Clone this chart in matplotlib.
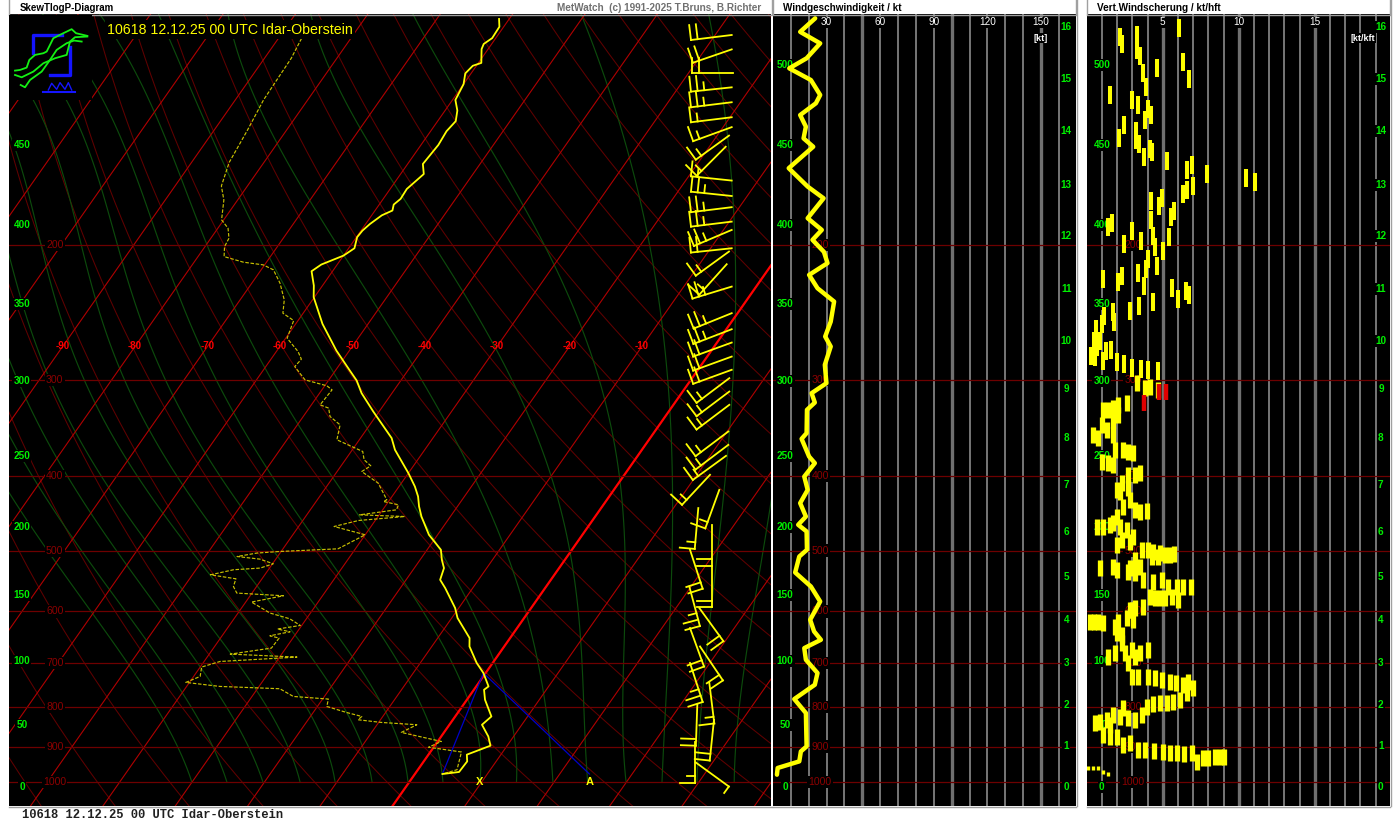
import numpy as np
import matplotlib
matplotlib.use('Agg')
import matplotlib.pyplot as plt
from matplotlib.lines import Line2D
from matplotlib.patches import Rectangle
from matplotlib.transforms import IdentityTransform

# Sounding, pressure in hPa and temperature in deg C
temp_p = [101.5, 103.9, 107.5, 109.4, 111.1, 115.8, 116.8, 119.5, 123.4, 129.4, 133.6, 137.9, 142.1, 148.1,
          156.8, 161.6, 169.0, 174.1, 177.1, 180.3, 182.9, 187.7, 191.5, 195.3, 201.9, 206.4, 212.0, 216.3,
          225.8, 233.8, 253.3, 274.4, 291.4, 300.2, 311.8, 329.5, 356.8, 369.6, 396.3, 412.6, 425.1, 438.0,
          451.4, 476.8, 498.7, 513.9, 526.9, 545.7, 559.4, 593.9, 612.0, 649.9, 666.5, 700.4, 721.8, 751.4,
          758.9, 782.0, 822.2, 842.9, 872.9, 897.5, 922.0, 940.8, 971.2, 977.1]
temp_t = [-61.4, -60.6, -60.5, -61.1, -60.9, -59.6, -60.5, -60.8, -60.0, -59.6, -58.3, -57.5, -57.8, -57.6,
          -57.9, -56.8, -57.7, -57.6, -58.0, -57.6, -58.6, -59.4, -59.8, -59.9, -59.2, -60.0, -62.2, -62.9,
          -61.2, -60.1, -56.3, -51.8, -48.0, -46.1, -44.2, -40.8, -35.7, -34.1, -30.0, -27.8, -26.4, -25.3,
          -24.0, -21.2, -18.1, -17.0, -15.9, -15.3, -13.8, -10.5, -9.2, -5.6, -4.8, -2.2, -0.3, 1.7,
          1.4, 2.5, 5.0, 4.5, 6.5, 7.7, 5.3, 6.0, 5.9, 3.8]
dew_p = [107.6, 114.2, 121.9, 129.4, 141.6, 156.1, 167.5, 174.7, 185.4, 190.1, 195.9, 200.9, 207.0, 210.5,
         212.2, 215.4, 224.2, 235.7, 245.3, 250.8, 264.4, 275.2, 281.6, 287.9, 299.6, 305.0, 308.7, 322.9,
         326.1, 334.4, 342.9, 358.6, 371.4, 380.8, 387.7, 394.4, 408.4, 429.3, 431.5, 435.8, 442.4, 449.1,
         451.4, 456.8, 465.1, 476.8, 497.3, 501.3, 503.7, 508.9, 512.9, 520.1, 526.9, 529.5, 537.6, 544.1,
         556.8, 567.9, 572.5, 583.4, 602.9, 613.4, 625.8, 632.6, 637.8, 645.5, 650.0, 669.8, 682.0, 688.1,
         697.2, 708.9, 729.2, 742.4, 751.4, 756.6, 774.3, 780.4, 797.9, 812.4, 822.2, 830.4, 837.1, 842.9,
         862.5, 886.2, 901.7, 914.7, 964.6, 977.1]
dew_t = [-86.8, -86.3, -86.2, -86.1, -85.4, -84.8, -83.6, -81.9, -80.3, -78.6, -77.5, -77.3, -76.4, -73.2,
         -70.2, -68.3, -66.1, -63.9, -62.8, -60.6, -59.8, -57.0, -55.8, -56.0, -53.3, -49.7, -48.6, -48.8,
         -47.3, -46.3, -44.1, -43.1, -38.4, -37.4, -35.9, -36.6, -33.2, -30.4, -30.7, -28.3, -28.1, -32.7,
         -26.3, -32.3, -35.1, -30.0, -32.4, -40.2, -43.2, -45.6, -42.2, -39.9, -41.3, -44.8, -47.5, -43.6,
         -43.2, -42.1, -35.4, -39.2, -35.6, -32.3, -30.2, -33.0, -31.0, -33.4, -31.9, -32.0, -37.1, -27.6,
         -37.8, -39.8, -39.1, -40.5, -35.4, -26.9, -24.3, -19.2, -18.7, -15.4, -12.9, -13.1, -9.6, -4.5,
         -5.9, 0.5, -0.7, 4.3, 5.4, 3.8]

# Lifted parcel, surface -> LCL -> moist point
lift_p = [977.1, 721.8, 977.1]
lift_t = [3.8, -0.3, 24.1]

# Wind speed profile
wind_p = [101.3, 105.5, 109.2, 114.2, 117.7, 121.9, 127.5, 130.7, 135.4, 140.2, 145.2, 148.9, 158.8, 167.8,
          173.8, 184.5, 191.1, 196.9, 204.1, 211.1, 218.7, 227.6, 236.9, 251.6, 263.1, 271.1, 286.4, 302.6,
          311.8, 320.7, 327.8, 351.5, 357.6, 377.1, 384.6, 400.4, 416.7, 433.6, 451.4, 462.7, 472.1, 498.7,
          508.9, 533.9, 556.8, 582.4, 615.2, 637.2, 653.3, 669.8, 693.6, 721.8, 747.6, 780.4, 813.8, 899.5,
          913.1, 940.8, 959.6, 979.1]
wind_kt = [23.6, 15.2, 26.4, 18.8, 9.1, 21.2, 26.4, 24.0, 15.2, 18.4, 17.1, 22.5, 8.8, 19.4,
           28.3, 19.4, 27.3, 22.1, 28.5, 30.5, 20.2, 24.9, 34.2, 32.3, 29.2, 32.3, 29.0, 29.9,
           21.6, 23.4, 19.0, 18.8, 16.0, 20.2, 23.4, 17.5, 19.4, 15.2, 18.4, 14.1, 18.8, 19.0,
           14.7, 12.4, 21.2, 26.4, 20.8, 23.0, 26.8, 17.5, 18.4, 24.9, 23.4, 11.9, 18.4, 18.8,
           15.6, 14.7, 2.6, 2.2]

# Wind barbs
barb_p = [106.5, 111.2, 119.2, 124.6, 130.3, 136.3, 140.4, 144.0, 148.9, 164.8, 172.6, 178.5, 186.4, 191.1,
          201.9, 203.9, 211.8, 226.5, 245.3, 257.4, 267.9, 279.4, 290.7, 298.1, 310.3, 322.9, 349.8, 364.1,
          376.3, 398.3, 416.7, 440.1, 462.7, 524.3, 498.7, 556.8, 593.9, 630.7, 666.5, 700.4, 743.2, 793.8,
          830.4, 886.9, 943.7]
barb_station = [731.7, 731.7, 733.3, 731.7, 731.7, 731.7, 731.7, 729.0, 725.7, 731.7, 731.7, 731.7, 731.7, 731.7,
                731.7, 729.0, 726.7, 731.7, 731.7, 731.7, 731.7, 731.7, 731.7, 729.3, 729.3, 729.3, 728.3, 728.3,
                726.0, 710.0, 719.3, 698.3, 711.7, 711.7, 690.0, 689.3, 699.3, 690.0, 700.0, 690.0, 709.3, 697.3,
                714.0, 695.0, 695.7]
barb_dir = [263, 251, 270, 264, 263, 263, 250, 234, 225, 276, 276, 263, 263, 247,
            264, 234, 222, 253, 248, 249, 250, 250, 250, 233, 233, 233, 233, 233,
            234, 223, 200, 185, 180, 180, 162, 165, 144, 160, 146, 162, 173, 182,
            186, 180, 126]
barb_speed = [20, 20, 20, 25, 25, 15, 15, 15, 15, 15, 25, 25, 25, 25,
              20, 15, 15, 25, 25, 25, 20, 20, 20, 15, 15, 15, 15, 15,
              15, 15, 15, 15, 20, 20, 20, 25, 20, 20, 20, 25, 15, 20,
              20, 15, 5]

# Vertical wind shear, upper part
shear_hi = [6.05, 2.19, 2.35, 3.29, 3.29, 3.51, 4.61, 6.36, 6.73, 3.73, 3.88, 1.54, 2.96, 3.40, 4.01, 4.21,
            3.84, 2.43, 2.13, 3.22, 3.22, 3.44, 3.77, 4.17, 4.28, 5.26, 6.62, 6.91, 7.89, 10.46, 11.10, 7.0,
            6.58, 6.32, 4.23, 4.93, 4.78, 5.75, 5.53, 4.23, 1.38, 1.69, 2.96, 4.39, 3.55, 5.39, 2.43, 4.50,
            5.0, 4.06, 4.61, 3.90, 1.10, 2.32, 2.08, 3.36, 3.77, 5.64, 6.54, 6.73, 5.99, 4.39, 3.46, 2.85,
            1.75, 1.82, 1.14, 0.99, 0.61, 0.48, 0.66, 0.88, 1.27, 1.10, 1.58, 0.31, 0.55, 1.97, 2.43, 2.96,
            3.55, 4.06, 4.71]
shear_hi_p = [104.4, 107.3, 109.4, 106.4, 111.4, 113.5, 117.6, 115.5, 121.4, 119.4, 124.6, 127.4, 129.4, 131.4,
              133.0, 135.4, 137.4, 139.5, 145.2, 142.2, 145.9, 147.7, 153.4, 149.9, 151.4, 155.3, 159.5, 157.5,
              161.6, 163.6, 165.4, 167.4, 169.6, 171.6, 175.4, 173.7, 177.7, 180.4, 183.7, 185.5, 189.6, 187.4,
              191.6, 194.4, 197.4, 195.4, 199.4, 201.4, 203.4, 208.6, 212.8, 214.9, 221.4, 219.2, 223.7, 217.7,
              225.9, 227.5, 229.3, 232.3, 235.4, 237.5, 239.9, 243.5, 244.7, 252.2, 247.2, 253.5, 257.3, 266.4,
              271.8, 266.4, 274.6, 282.9, 274.0, 278.7, 280.1, 284.3, 285.8, 289.2, 290.1, 291.0, 291.5]
# Vertical wind shear, lower part
shear_lo = [3.33, 3.84, 4.17, 4.71, 2.68, 2.08, 1.75, 1.43, 1.05, 1.75, 2.04, 0.99, 0.44, 0.77, 1.32, 1.75,
            1.86, 2.41, 2.74, 3.07, 0.99, 1.43, 1.75, 3.51, 3.18, 2.74, 2.30, 1.97, 2.19, 2.74, 2.85, 2.41,
            3.18, 3.51, 3.99, 1.97, 1.75, 1.54, 1.10, 0.66, 2.19, 2.63, 3.07, 2.30, 2.85, 1.97, 3.62, 4.06,
            4.39, 4.82, 5.15, 5.48, 5.75, 3.18, 3.51, 4.28, 4.71, 2.85, 3.18, 3.73, 0.88, 1.75, 2.02, 2.74,
            4.39, 4.93, 5.37, 5.92, 6.36, 6.84, 4.17, 4.50, 4.82, 5.15, 5.59, 6.03, 3.73, 3.18, 2.85, 2.63,
            2.08, 1.86, 1.10, 0.77, 0.48, 0.22, 1.97, 2.30, 3.07, 2.96, 2.30, 1.86, 1.43, 2.52, 2.96, 3.18,
            3.51, 4.06, 2.74, 2.96, 3.40, 4.06, 4.50, 4.93, 5.48, 5.88, 6.36, 6.69, 7.02, 6.58, 6.14, 5.70,
            5.26, 4.82, 4.39, 3.95, 3.62, 3.18, 2.74, 2.41, 2.19, 1.75, 1.32, 0.88, 0.55, 1.54, 1.10, 1.54,
            1.97, 2.41, 2.85, 3.40, 3.84, 4.43, 5.0, 5.48, 5.96, 6.40, 6.91, 7.24, 7.68, 8.0, 8.44, 8.77,
            9.04]
shear_lo_p = [302.6, 307.2, 305.7, 308.8, 321.4, 323.0, 326.2, 327.9, 327.9, 337.9, 332.8, 343.0, 353.4, 357.0,
              348.1, 353.4, 369.7, 369.7, 371.5, 373.4, 382.8, 384.7, 386.7, 396.5, 398.5, 398.5, 408.6, 416.8,
              418.9, 414.7, 429.5, 438.2, 442.6, 444.8, 443.9, 451.5, 460.7, 463.0, 465.3, 465.3, 465.3, 470.0,
              479.5, 484.3, 486.8, 491.7, 499.2, 499.2, 501.7, 504.2, 506.7, 506.7, 505.2, 514.2, 524.6, 509.2,
              509.2, 527.2, 535.2, 546.0, 527.2, 524.6, 529.9, 532.5, 548.7, 546.0, 557.0, 557.0, 558.1, 558.1,
              573.9, 576.8, 576.8, 576.8, 573.9, 579.7, 591.4, 594.4, 597.4, 612.6, 618.7, 628.1, 621.8, 618.7,
              618.7, 620.0, 640.9, 644.1, 615.6, 597.4, 660.4, 680.5, 687.4, 680.5, 673.7, 687.4, 680.5, 673.7,
              701.1, 729.7, 729.7, 729.7, 733.4, 737.0, 740.7, 744.4, 748.2, 740.7, 755.7, 767.1, 782.6, 786.5,
              790.4, 790.4, 792.0, 798.4, 818.6, 831.0, 826.8, 802.4, 822.7, 818.6, 831.0, 835.1, 839.3, 843.5,
              869.2, 873.5, 873.5, 895.7, 891.2, 909.2, 909.2, 911.0, 913.8, 916.5, 918.3, 920.2, 918.3, 941.5,
              932.1, 932.1, 927.5, 927.5, 927.5]
shear_red = [3.77, 4.78, 5.22]
shear_red_p = [321.4, 310.3, 310.3]
shear_low = [0.11, 0.44, 0.77, 1.10, 1.43]
shear_low_p = [960.6, 960.6, 960.6, 970.3, 977.2]

# Axis labels
iso_levels = [200, 300, 400, 500, 600, 700, 800, 900, 1000]
temp_labels = [-90, -80, -70, -60, -50, -40, -30, -20, -10]
fl_labels = [500, 450, 400, 350, 300, 250, 200, 150, 100, 50, 0]
fl_press = [116.5, 148.1, 188.3, 238.5, 300.5, 376.3, 465.5, 570.7, 695.6, 842.9, 1014.9]
km_labels = list(range(17))
km_press = [1014.9, 897.5, 793.8, 699.8, 615.2, 540.8, 472.6, 410.4, 356.5, 307.8, 266.5, 228.1, 194.6, 167.0,
            142.0, 121.5, 104.0]
speed_ticks = [30, 60, 90, 120, 150]
shear_ticks = [5, 10, 15]

# Green saturation curves: sideways position at six pressures
green_p = [107.1, 174.7, 300.2, 393.0, 614.0, 1000.0]
green_pos = [[-190, -110, -55, 0, 95, 192], [-155, -75, -20, 32, 130, 227], [-120, -40, 15, 67, 165, 263],
             [-85, -5, 50, 98, 205, 300], [-50, 30, 85, 133, 245, 335], [-12, 70, 125, 173, 283, 372],
             [22, 105, 165, 217, 325, 408], [62, 145, 215, 270, 370, 443], [115, 190, 270, 330, 427, 480],
             [168, 243, 330, 402, 473, 517], [233, 310, 420, 473, 527, 553], [317, 406, 507, 555, 577, 588],
             [425, 520, 600, 618, 625, 626], [590, 640, 668, 672, 670, 662], [713, 733, 733, 726, 710, 697],
             [800, 795, 790, 772, 753, 734]]

W, H = 1400, 825
SKEW = 74.25
P_TOP, P_BOT = 100.0, 1075.5

RED = '#b00000'
DRED = '#600000'
HLINE = '#6e0000'
GREEN = '#0c4a0c'
YEL = '#ffff00'
DEW = '#c8c000'
LIME = '#00f000'
GRID = '#808080'
GRID2 = '#707070'

plt.rcParams['font.family'] = ['Liberation Sans', 'DejaVu Sans']


def rect(x0, y0, x1, y1):
    return [x0 / W, 1 - y1 / H, (x1 - x0) / W, (y1 - y0) / H]


def skew(t, p):
    return np.asarray(t, dtype=float) + SKEW * np.log10(1000.0 / np.asarray(p, dtype=float))


def panel(x0, x1):
    ax = fig.add_axes(rect(x0, 14, x1, 806), facecolor='black')
    ax.set_yscale('log')
    ax.set_ylim(P_BOT, P_TOP)
    ax.set_xticks([])
    ax.set_yticks([])
    ax.minorticks_off()
    for s in ax.spines.values():
        s.set_visible(False)
    return ax


def side_labels(ax, xpos, levels, press, color, size=7.2, weight='normal'):
    # labels sit at a fixed spot of the panel, black box hides the grid behind
    tr = ax.get_yaxis_transform()
    for lab, p in zip(levels, press):
        ax.text(xpos, p, str(lab), color=color, fontsize=size, ha='center', va='center', transform=tr,
                zorder=3, fontweight=weight, bbox=dict(fc='black', ec='none', pad=0.8))


def draw_barb(ax, station, p, wdir, spd):
    sx, sy = ax.transData.transform((station, p))
    a = np.deg2rad(wdir)
    dx, dy = np.sin(a), np.cos(a)
    tx, ty = sx + 41 * dx, sy + 41 * dy
    segs = [((sx, sy), (tx, ty))]
    n = 0
    for k in range(spd // 10):
        bx, by = tx - n * 6.7 * dx, ty - n * 6.7 * dy
        segs.append(((bx, by), (bx + 15 * dy, by - 15 * dx)))
        n += 1
    if spd % 10 >= 5:
        bx, by = tx - n * 6.7 * dx, ty - n * 6.7 * dy
        segs.append(((bx, by), (bx + 8 * dy, by - 8 * dx)))
    for a0, a1 in segs:
        ax.add_line(Line2D([a0[0], a1[0]], [a0[1], a1[1]], color=YEL, lw=1.3,
                           transform=IdentityTransform(), zorder=6, clip_on=False))


fig = plt.figure(figsize=(W / 100, H / 100), dpi=100, facecolor='white')

# --- Skew-T panel ---
ax = panel(9, 771)
ax.set_xlim((9 - 409.5) / 7.24, (771 - 409.5) / 7.24)
pfull = np.geomspace(P_BOT, P_TOP, 200)
pgreen = np.geomspace(1000.0, P_TOP, 120)

for theta in np.arange(200, 700, 10):
    t = theta * (pfull / 1000.0) ** 0.286 - 273.15
    ax.plot(skew(t, pfull), pfull, color=DRED, lw=0.75, zorder=1)
for row in green_pos:
    coef = np.polyfit(np.log10(green_p), row, 4)
    ax.plot((np.polyval(coef, np.log10(pgreen)) - 409.5) / 7.24, pgreen, color=GREEN, lw=0.85, zorder=1.2)
for t0 in np.arange(-130, 60, 10):
    ax.plot(skew(np.full(2, t0), [P_BOT, P_TOP]), [P_BOT, P_TOP], color=RED, lw=0.8, zorder=1.4)
ax.plot(skew(np.zeros(2), [P_BOT, P_TOP]), [P_BOT, P_TOP], color='#ff0000', lw=1.6, zorder=1.6)
for lev in iso_levels:
    ax.axhline(lev, color=HLINE, lw=0.9, zorder=1.8)

ax.plot(skew(lift_t, lift_p), lift_p, color='#0000c8', lw=0.9, zorder=3)
ax.plot(skew(dew_t, dew_p), dew_p, color=DEW, lw=0.85, ls=(0, (3, 1.4)), zorder=4)
ax.plot(skew(temp_t, temp_p), temp_p, color=YEL, lw=1.3, zorder=4.5)

for t in temp_labels:
    ax.text(skew(t, 271.0), 271.0, str(t), color='#ff0000', fontsize=7.0, fontweight='bold', ha='center',
            va='center', zorder=2)
ax.text(9.7, 1000, 'X', color=YEL, fontsize=8, fontweight='bold', ha='center', va='center', zorder=5)
ax.text(24.9, 1000, 'A', color=YEL, fontsize=8, fontweight='bold', ha='center', va='center', zorder=5)

side_labels(ax, 0.060, iso_levels, iso_levels, '#8c0000', 7.6)
side_labels(ax, 0.0170, fl_labels[1:], fl_press[1:], LIME, 7.2, 'bold')

# barbs are placed in figure pixels, so limits have to be fixed first
for p, st, d, s in zip(barb_p, barb_station, barb_dir, barb_speed):
    draw_barb(ax, (st - 409.5) / 7.24, p, d, s)

fig.text(107 / W, 1 - 29.5 / H, '10618 12.12.25 00 UTC Idar-Oberstein', color=YEL, fontsize=10.2,
         va='center', ha='left', zorder=10, bbox=dict(fc='black', ec='none', pad=1.5))

# logo on its own black patch
axl = fig.add_axes(rect(9, 14.5, 92, 100), facecolor='black', zorder=9)
axl.set_xlim(27, 276)
axl.set_ylim(300, 44)
axl.axis('off')
axl.add_patch(Rectangle((27, 44), 249, 256, fc='black', ec='none'))
axl.plot([185, 100, 100], [105, 105, 160], color='#1414ff', lw=2.4)
axl.plot([210, 210, 150], [140, 225, 225], color='#1414ff', lw=2.4)
axl.plot([130, 225], [275, 275], color='#1414ff', lw=1.5)
axl.plot([145, 155, 170, 180, 195, 205, 215], [270, 250, 268, 248, 268, 248, 270], color='#1414ff', lw=1.0)
axl.plot([45, 60, 80, 88, 105, 130, 140, 160, 190, 215, 228, 262],
         [212, 210, 203, 180, 165, 160, 155, 115, 100, 88, 100, 108], color='#14f014', lw=1.3)
axl.plot([45, 65, 100, 130, 165, 200, 210, 225, 262],
         [225, 232, 215, 190, 175, 165, 125, 112, 110], color='#14f014', lw=1.3)
axl.plot([62, 75, 90, 125, 150, 170, 200, 222, 245],
         [255, 262, 240, 215, 180, 150, 130, 122, 125], color='#14f014', lw=1.3)

# --- wind speed panel ---
ax2 = panel(773, 1076)
ax2.set_xlim(0, (1076 - 772) / 1.793)
for v in range(10, 170, 10):
    thick = v % 50 == 0
    ax2.axvline(v, color=GRID2 if thick else GRID, lw=2.4 if thick else 1.3, zorder=1)
for lev in iso_levels:
    ax2.axhline(lev, color=HLINE, lw=0.9, zorder=1.8)
side_labels(ax2, 0.155, iso_levels, iso_levels, '#8c0000', 7.6)
side_labels(ax2, 0.040, fl_labels, fl_press, LIME, 7.2, 'bold')
side_labels(ax2, 0.968, km_labels, km_press, LIME, 7.2, 'bold')
ax2.plot(wind_kt, wind_p, color=YEL, lw=3.2, solid_joinstyle='round', solid_capstyle='round', zorder=7)
for v in speed_ticks:
    ax2.text(v, 0.9895, str(v), color='white', fontsize=7.2, ha='center', va='center',
             transform=ax2.get_xaxis_transform(), zorder=6, bbox=dict(fc='black', ec='none', pad=0.6))
ax2.text(150, 0.9695, '[kt]', color='white', fontsize=6.6, fontweight='bold', ha='center', va='center',
         transform=ax2.get_xaxis_transform(), zorder=6, bbox=dict(fc='black', ec='none', pad=0.6))

# --- shear panel ---
ax3 = panel(1086.7, 1390)
ax3.set_xlim(0, (1390 - 1086.7) / 15.2)
for v in range(1, 20):
    thick = v % 5 == 0
    ax3.axvline(v, color=GRID2 if thick else GRID, lw=2.4 if thick else 1.3, zorder=1)
for lev in iso_levels:
    ax3.axhline(lev, color=HLINE, lw=0.9, zorder=1.8)
side_labels(ax3, 0.152, iso_levels, iso_levels, '#8c0000', 7.6)
side_labels(ax3, 0.050, fl_labels, fl_press, LIME, 7.2, 'bold')
side_labels(ax3, 0.970, km_labels, km_press, LIME, 7.2, 'bold')
ax3.plot(shear_hi, shear_hi_p, ls='none', marker='|', ms=13.5, mew=2.9, color=YEL, zorder=7)
ax3.plot(shear_lo, shear_lo_p, ls='none', marker='|', ms=12, mew=3.8, color=YEL, zorder=7)
ax3.plot(shear_red, shear_red_p, ls='none', marker='|', ms=11, mew=3.2, color='#e00000', zorder=7.5)
ax3.plot(shear_low, shear_low_p, ls='none', marker='|', ms=3.5, mew=2.4, color=YEL, zorder=7)
for v in shear_ticks:
    ax3.text(v, 0.9895, str(v), color='white', fontsize=7.2, ha='center', va='center',
             transform=ax3.get_xaxis_transform(), zorder=6, bbox=dict(fc='black', ec='none', pad=0.6))
ax3.text(18.15, 0.9695, '[kt/kft', color='white', fontsize=6.4, fontweight='bold', ha='center', va='center',
         transform=ax3.get_xaxis_transform(), zorder=6, bbox=dict(fc='black', ec='none', pad=0.6))

# --- headers and footer ---
for x0, x1 in [(9, 772), (773, 1076), (1086.7, 1390)]:
    fig.add_artist(Line2D([x0 / W, x1 / W], [1 - 14.5 / H] * 2, color='#a0a0a0', lw=1))
    fig.add_artist(Line2D([x1 / W, x1 / W], [1 - 14 / H, 1], color='#a0a0a0', lw=1))
    fig.add_artist(Line2D([x0 / W, x0 / W], [1 - 14 / H, 1], color='#a0a0a0', lw=1))
    fig.add_artist(Line2D([x0 / W, x1 / W], [1 - 806.5 / H] * 2, color='#a0a0a0', lw=1))
fig.add_artist(Line2D([(1076.5) / W] * 2, [1 - 806 / H, 1], color='#a0a0a0', lw=1))
fig.add_artist(Line2D([(1390.5) / W] * 2, [1 - 806 / H, 1], color='#a0a0a0', lw=1))

fig.text(20 / W, 1 - 8 / H, 'SkewTlogP-Diagram', color='black', fontsize=7.0, fontweight='bold', va='center')
fig.text(557 / W, 1 - 8 / H, 'MetWatch  (c) 1991-2025 T.Bruns, B.Richter', color='#707070', fontsize=7.2,
         fontweight='bold', va='center')
fig.text(783 / W, 1 - 8 / H, 'Windgeschwindigkeit / kt', color='black', fontsize=7.1, fontweight='bold',
         va='center')
fig.text(1097 / W, 1 - 8 / H, 'Vert.Windscherung / kt/hft', color='black', fontsize=7.2, fontweight='bold',
         va='center')
fig.text(22 / W, 1 - 815 / H, '10618 12.12.25 00 UTC Idar-Oberstein', color='#202020', fontsize=8.7,
         family='Liberation Mono', fontweight='bold', va='center')

fig.savefig('out.png', dpi=100, facecolor='white')
